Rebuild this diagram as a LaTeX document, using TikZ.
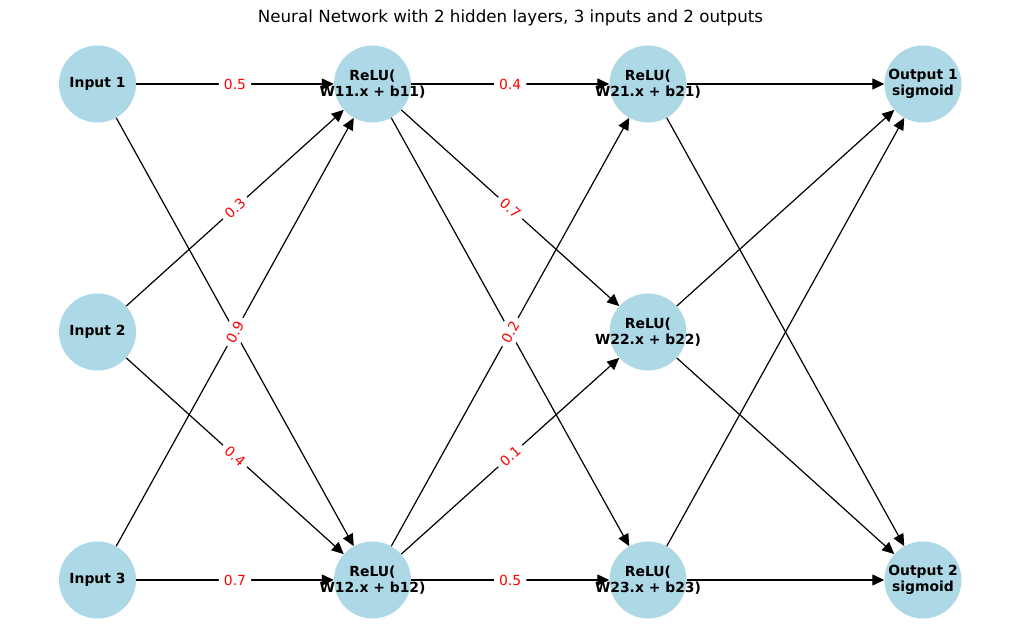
\documentclass[tikz,border=0pt]{standalone}
\usepackage{fontspec}
\setmainfont{DejaVu Sans}
\usetikzlibrary{arrows.meta}
\definecolor{nodeblue}{HTML}{ADD8E6}
\begin{document}
\begin{tikzpicture}[x=1pt,y=1pt,
  neuron/.style={circle, fill=nodeblue, minimum size=77pt, inner sep=0pt},
  ntext/.style={font=\fontsize{13.9}{16.2}\selectfont\bfseries, align=center, inner sep=0pt},
  conn/.style={-{Triangle[length=12pt,width=11pt]}, line width=1.2pt, black},
  wlabel/.style={midway, sloped, fill=white, text=red, font=\fontsize{13.9}{16.2}\selectfont, inner sep=5pt, rounded corners=3pt}]
\useasboundingbox[fill=white] (0,0) rectangle (1019,642);

% title
\node (title) at (510.5,624) {\fontsize{16.7}{20}\selectfont Neural Network with 2 hidden layers, 3 inputs and 2 outputs};

% circles
\node[neuron] (i1) at (97.5,558) {};
\node[neuron] (i2) at (97.5,310) {};
\node[neuron] (i3) at (97.5,62) {};
\node[neuron] (h11) at (372.5,558) {};
\node[neuron] (h12) at (372.5,62) {};
\node[neuron] (h21) at (648,558) {};
\node[neuron] (h22) at (648,310) {};
\node[neuron] (h23) at (648,62) {};
\node[neuron] (o1) at (923,558) {};
\node[neuron] (o2) at (923,62) {};

% connectors
\draw[conn] (i1) -- (h11);
\draw[conn] (i1) -- (h12);
\draw[conn] (i2) -- (h11);
\draw[conn] (i2) -- (h12);
\draw[conn] (i3) -- (h11);
\draw[conn] (i3) -- (h12);
\draw[conn] (h11) -- (h21);
\draw[conn] (h11) -- (h22);
\draw[conn] (h11) -- (h23);
\draw[conn] (h12) -- (h21);
\draw[conn] (h12) -- (h22);
\draw[conn] (h12) -- (h23);
\draw[conn] (h21) -- (o1);
\draw[conn] (h21) -- (o2);
\draw[conn] (h22) -- (o1);
\draw[conn] (h22) -- (o2);
\draw[conn] (h23) -- (o1);
\draw[conn] (h23) -- (o2);

% weight labels
\path (i1) -- (h11) node[wlabel] (w1) {0.5};
\path (i2) -- (h11) node[wlabel] (w2) {0.3};
\path (i2) -- (h12) node[wlabel] (w3) {0.4};
\path (i3) -- (h11) node[wlabel] (w4) {0.9};
\path (i3) -- (h12) node[wlabel] (w5) {0.7};
\path (h11) -- (h21) node[wlabel] (w6) {0.4};
\path (h11) -- (h22) node[wlabel] (w7) {0.7};
\path (h12) -- (h21) node[wlabel] (w8) {0.2};
\path (h12) -- (h22) node[wlabel] (w9) {0.1};
\path (h12) -- (h23) node[wlabel] (w10) {0.5};

% node texts
\node[ntext] (ti1) at (i1) {Input 1};
\node[ntext] (ti2) at (i2) {Input 2};
\node[ntext] (ti3) at (i3) {Input 3};
\node[ntext] (th11) at (h11) {ReLU(\\W11.x + b11)};
\node[ntext] (th12) at (h12) {ReLU(\\W12.x + b12)};
\node[ntext] (th21) at (h21) {ReLU(\\W21.x + b21)};
\node[ntext] (th22) at (h22) {ReLU(\\W22.x + b22)};
\node[ntext] (th23) at (h23) {ReLU(\\W23.x + b23)};
\node[ntext] (to1) at (o1) {Output 1\\sigmoid};
\node[ntext] (to2) at (o2) {Output 2\\sigmoid};
\end{tikzpicture}
\end{document}
